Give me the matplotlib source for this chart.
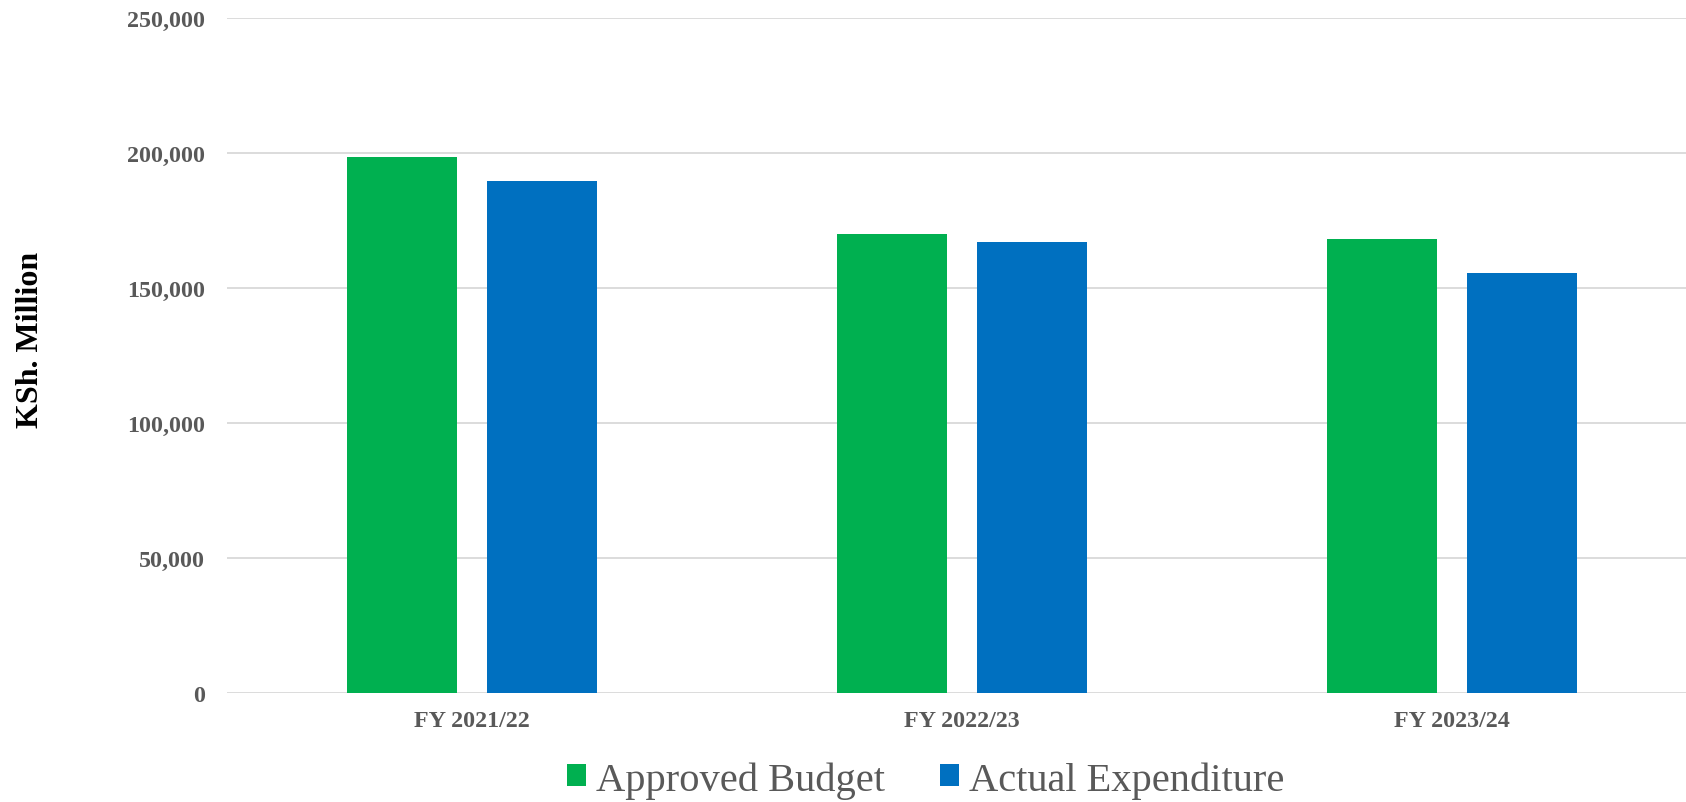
import numpy as np
import matplotlib.pyplot as plt

# Budget vs spending, KSh. million
years = ["FY 2021/22", "FY 2022/23", "FY 2023/24"]
approved_budget = [198500, 169900, 168000]
actual_expenditure = [189500, 166900, 155600]

green = "#00b050"
blue = "#0070c0"
grey = "#595959"

plt.rcParams['font.family'] = ['Liberation Serif', 'DejaVu Serif']

fig = plt.figure(figsize=(16.86, 8.03), dpi=100)
ax = fig.add_axes([227/1686, 1 - 694/803, 1 - 227/1686, (694 - 19)/803])

x = np.arange(len(years))
w = 0.2245
off = 0.143
ax.bar(x - off, approved_budget, w, color=green, label="Approved Budget", zorder=3)
ax.bar(x + off, actual_expenditure, w, color=blue, label="Actual Expenditure", zorder=3)

ax.set_ylim(0, 250000)
ax.set_xlim(-0.5, 2.478)
ax.set_yticks(np.arange(0, 250001, 50000))
ax.yaxis.set_major_formatter(plt.FuncFormatter(lambda v, p: f"{int(v):,}"))
ax.set_xticks(x)
ax.set_xticklabels(years)

for lbl in ax.get_xticklabels() + ax.get_yticklabels():
    lbl.set_fontweight("bold")
    lbl.set_color(grey)
    lbl.set_fontsize(17.3)
ax.tick_params(axis="y", length=0, pad=16)
ax.tick_params(axis="x", length=0, pad=12)

ax.grid(axis="y", color="#d9d9d9", linewidth=1.3, zorder=0)
for s in ax.spines.values():
    s.set_visible(False)

fig.text(31/1686, 1 - 340/803, "KSh. Million", rotation=90, ha="center", va="center",
         fontsize=23, fontweight="bold", color="black")

fig.legend(loc="center", bbox_to_anchor=(926/1686, 1 - 781/803), ncol=2, frameon=False,
           fontsize=29.2, labelcolor=grey, handlelength=0.47, handleheight=0.47,
           handletextpad=0.25, columnspacing=1.35)

fig.savefig("out.png", dpi=100)
